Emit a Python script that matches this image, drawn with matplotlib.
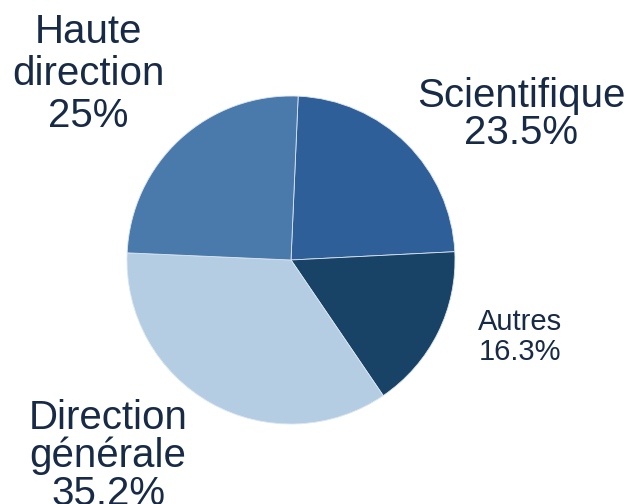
import matplotlib.pyplot as plt

# Données
categories = ["Scientifique", "Autres", "Direction générale", "Haute direction"]
parts = [23.5, 16.3, 35.2, 25.0]
couleurs = ["#2f5f98", "#194366", "#b5cde3", "#4a7aab"]

# Étiquettes (lignes séparées)
etiquettes = [
    ["Scientifique", "23.5%"],
    ["Autres", "16.3%"],
    ["Direction", "générale", "35.2%"],
    ["Haute", "direction", "25%"],
]

police = ["Liberation Sans Narrow", "Liberation Sans", "DejaVu Sans"]
texte_couleur = "#172a46"

W, H = 628, 504
cx, cy, R = 291, 260, 164

fig = plt.figure(figsize=(W / 100, H / 100), dpi=100)
ax = fig.add_axes([0, 0, 1, 1])
ax.pie(parts, colors=couleurs, startangle=87.5, counterclock=False,
       wedgeprops=dict(edgecolor="#dbe6f0", linewidth=0.6))
ax.set_xlim(-cx / R, (W - cx) / R)
ax.set_ylim(-(H - cy) / R, cy / R)
ax.set_aspect("equal")
ax.axis("off")


def px(x, y):
    return (x - cx) / R, (cy - y) / R


# positions des lignes (x centre, lignes de base), taille
placements = [
    (521, [107, 144], 29),
    (520, [330, 360], 21),
    (108, [429, 467, 505], 29),
    (88, [43, 85, 127], 29),
]

for lignes, (x0, bases, taille) in zip(etiquettes, placements):
    for txt, yb in zip(lignes, bases):
        x, y = px(x0, yb)
        ax.text(x, y, txt, ha="center", va="baseline", fontsize=taille,
                family=police, color=texte_couleur)

fig.savefig("out.png", dpi=100)
